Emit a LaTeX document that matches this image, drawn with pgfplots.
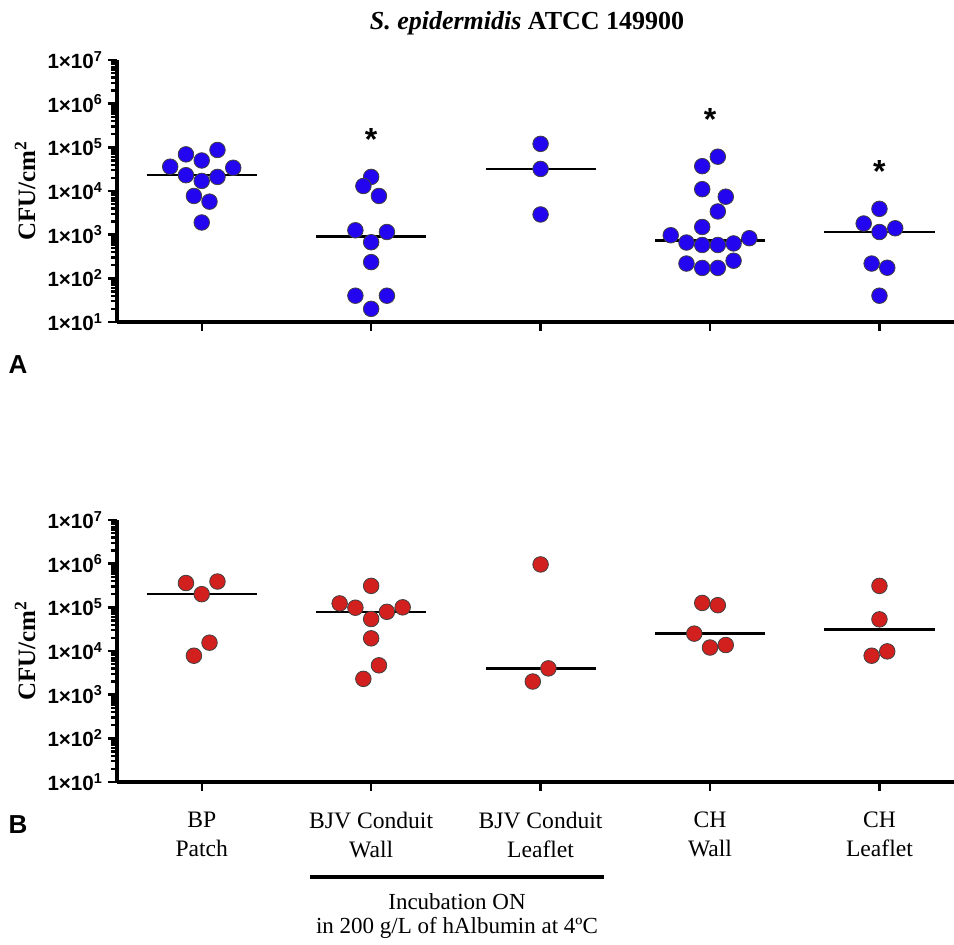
\documentclass[border=0pt]{standalone}
\usepackage{pgfplots}
\pgfplotsset{compat=1.18}
\usepackage{fontspec}
\setmainfont{Liberation Serif}
\setsansfont{Liberation Sans}

\definecolor{dotblue}{RGB}{35,5,240}
\definecolor{dotred}{RGB}{210,32,30}

\pgfplotsset{
  cfudots/.style={only marks, mark=*, mark size=3.9pt,
    mark options={fill=#1, draw=black!75, line width=0.4pt}},
  cfumedian/.style={black, line width=1.2pt, forget plot},
}

\begin{document}
\begin{tikzpicture}
\path[use as bounding box] (0,0) rectangle (477pt,-472.5pt);

\node[font=\bfseries\fontsize{13}{15}\selectfont] at (263.5pt,-11.5pt) {\textit{S. epidermidis} ATCC 149900};

% panel A
\begin{axis}[
    scale only axis, width=418.5pt, height=131pt,
    at={(58.5pt,-161pt)}, anchor=south west,
    ymode=log, ymin=10, ymax=1e7,
    xmin=-0.5, xmax=4.44,
    axis lines*=left,
    axis line style={line width=1.8pt},
    tick align=outside,
    major tick length=4.5pt,
    every tick/.append style={black, line width=1.2pt},
    xtick={0,1,2,3,4}, xticklabels={},
    ytick={1e1,1e2,1e3,1e4,1e5,1e6,1e7},
    extra y ticks={20,30,40,50,60,70,80,90,200,300,400,500,600,700,800,900,2000,3000,4000,5000,6000,7000,8000,9000,2e4,3e4,4e4,5e4,6e4,7e4,8e4,9e4,2e5,3e5,4e5,5e5,6e5,7e5,8e5,9e5,2e6,3e6,4e6,5e6,6e6,7e6,8e6,9e6},
    extra y tick labels={},
    extra y tick style={major tick length=3pt},
    yticklabels={1×10\textsuperscript{1},1×10\textsuperscript{2},1×10\textsuperscript{3},1×10\textsuperscript{4},1×10\textsuperscript{5},1×10\textsuperscript{6},1×10\textsuperscript{7}},
    yticklabel style={font=\sffamily\bfseries\fontsize{10.3}{11}\selectfont, xshift=1pt},
    clip=false,
  ]
\addplot[cfudots=dotblue] coordinates {
 (0.093,8.7e4) (-0.093,6.9e4) (0,5.0e4) (-0.186,3.6e4) (0.186,3.4e4)
 (-0.093,2.3e4) (0.093,2.1e4) (0,1.7e4) (-0.046,7.7e3) (0.046,5.7e3) (0,1.9e3)};
\addplot[cfudots=dotblue] coordinates {
 (1,2.1e4) (0.954,1.3e4) (1.046,7.7e3) (0.907,1.26e3) (1.093,1.15e3)
 (1,670) (1,235) (0.907,40) (1.093,40) (1,20)};
\addplot[cfudots=dotblue] coordinates {(2,1.2e5) (2,3.2e4) (2,2.9e3)};
\addplot[cfudots=dotblue] coordinates {
 (3.046,6.1e4) (2.954,3.7e4) (2.954,1.1e4) (3.093,7.4e3) (3.046,3.4e3)
 (2.954,1.5e3) (2.768,970) (3.232,830) (2.861,660) (2.954,580) (3.046,580)
 (3.139,630) (2.861,218) (3.139,253) (2.954,173) (3.046,173)};
\addplot[cfudots=dotblue] coordinates {
 (4,3.9e3) (3.907,1.8e3) (4.093,1.4e3) (4,1.15e3) (3.954,218) (4.046,175) (4,40)};
\addplot[cfumedian] coordinates {(-0.325,2.3e4) (0.325,2.3e4)};
\addplot[cfumedian] coordinates {(0.675,900) (1.325,900)};
\addplot[cfumedian] coordinates {(1.675,3.2e4) (2.325,3.2e4)};
\addplot[cfumedian] coordinates {(2.675,735) (3.325,735)};
\addplot[cfumedian] coordinates {(3.675,1.15e3) (4.325,1.15e3)};
\node[font=\sffamily\bfseries\fontsize{16}{16}\selectfont, anchor=base, yshift=-0.62em] at (axis cs:1,1.6e5) {*};
\node[font=\sffamily\bfseries\fontsize{16}{16}\selectfont, anchor=base, yshift=-0.62em] at (axis cs:3,4.6e5) {*};
\node[font=\sffamily\bfseries\fontsize{16}{16}\selectfont, anchor=base, yshift=-0.62em] at (axis cs:4,3.0e4) {*};
\end{axis}

% panel B
\begin{axis}[
    scale only axis, width=418.5pt, height=131pt,
    at={(58.5pt,-391pt)}, anchor=south west,
    ymode=log, ymin=10, ymax=1e7,
    xmin=-0.5, xmax=4.44,
    axis lines*=left,
    axis line style={line width=1.8pt},
    tick align=outside,
    major tick length=4.5pt,
    every tick/.append style={black, line width=1.2pt},
    xtick={0,1,2,3,4},
    xticklabels={{BP\\Patch},{BJV Conduit\\Wall},{BJV Conduit\\Leaflet},{CH\\Wall},{CH\\Leaflet}},
    xticklabel style={align=center, font=\fontsize{11.8}{14.5}\selectfont, yshift=-7pt},
    ytick={1e1,1e2,1e3,1e4,1e5,1e6,1e7},
    extra y ticks={20,30,40,50,60,70,80,90,200,300,400,500,600,700,800,900,2000,3000,4000,5000,6000,7000,8000,9000,2e4,3e4,4e4,5e4,6e4,7e4,8e4,9e4,2e5,3e5,4e5,5e5,6e5,7e5,8e5,9e5,2e6,3e6,4e6,5e6,6e6,7e6,8e6,9e6},
    extra y tick labels={},
    extra y tick style={major tick length=3pt},
    yticklabels={1×10\textsuperscript{1},1×10\textsuperscript{2},1×10\textsuperscript{3},1×10\textsuperscript{4},1×10\textsuperscript{5},1×10\textsuperscript{6},1×10\textsuperscript{7}},
    yticklabel style={font=\sffamily\bfseries\fontsize{10.3}{11}\selectfont, xshift=1pt},
    clip=false,
  ]
\addplot[cfudots=dotred] coordinates {
 (-0.093,3.6e5) (0.093,3.9e5) (0,2.0e5) (0.046,1.55e4) (-0.046,7.8e3)};
\addplot[cfudots=dotred] coordinates {
 (1,3.1e5) (0.814,1.23e5) (0.907,9.8e4) (1.186,1.0e5) (1.093,7.9e4)
 (1,5.4e4) (1,1.95e4) (1.046,4.7e3) (0.954,2.3e3)};
\addplot[cfudots=dotred] coordinates {(2,9.6e5) (2.046,4.0e3) (1.954,2.0e3)};
\addplot[cfudots=dotred] coordinates {
 (2.954,1.26e5) (3.046,1.12e5) (2.907,2.5e4) (3,1.2e4) (3.093,1.37e4)};
\addplot[cfudots=dotred] coordinates {(4,3.1e5) (4,5.3e4) (3.954,7.8e3) (4.046,9.8e3)};
\addplot[cfumedian] coordinates {(-0.325,2.0e5) (0.325,2.0e5)};
\addplot[cfumedian] coordinates {(0.675,7.9e4) (1.325,7.9e4)};
\addplot[cfumedian] coordinates {(1.675,4.0e3) (2.325,4.0e3)};
\addplot[cfumedian] coordinates {(2.675,2.5e4) (3.325,2.5e4)};
\addplot[cfumedian] coordinates {(3.675,3.1e4) (4.325,3.1e4)};
\end{axis}

\node[rotate=90, font=\bfseries\fontsize{12.5}{14}\selectfont] at (12.5pt,-95.5pt) {CFU/cm\textsuperscript{2}};
\node[rotate=90, font=\bfseries\fontsize{12.5}{14}\selectfont] at (12.5pt,-325.5pt) {CFU/cm\textsuperscript{2}};
\node[font=\sffamily\bfseries\fontsize{13}{13}\selectfont] at (9pt,-182.5pt) {A};
\node[font=\sffamily\bfseries\fontsize{13}{13}\selectfont] at (9pt,-412.5pt) {B};

\draw[line width=2pt] (155pt,-438.5pt) -- (302pt,-438.5pt);
\node[font=\fontsize{11.5}{12}\selectfont, anchor=base, inner sep=1pt] at (228.5pt,-455pt) {Incubation ON};
\node[font=\fontsize{11.5}{12}\selectfont, anchor=base, inner sep=1pt] at (228.5pt,-467pt) {in 200 g/L of hAlbumin at 4ºC};
\end{tikzpicture}
\end{document}
